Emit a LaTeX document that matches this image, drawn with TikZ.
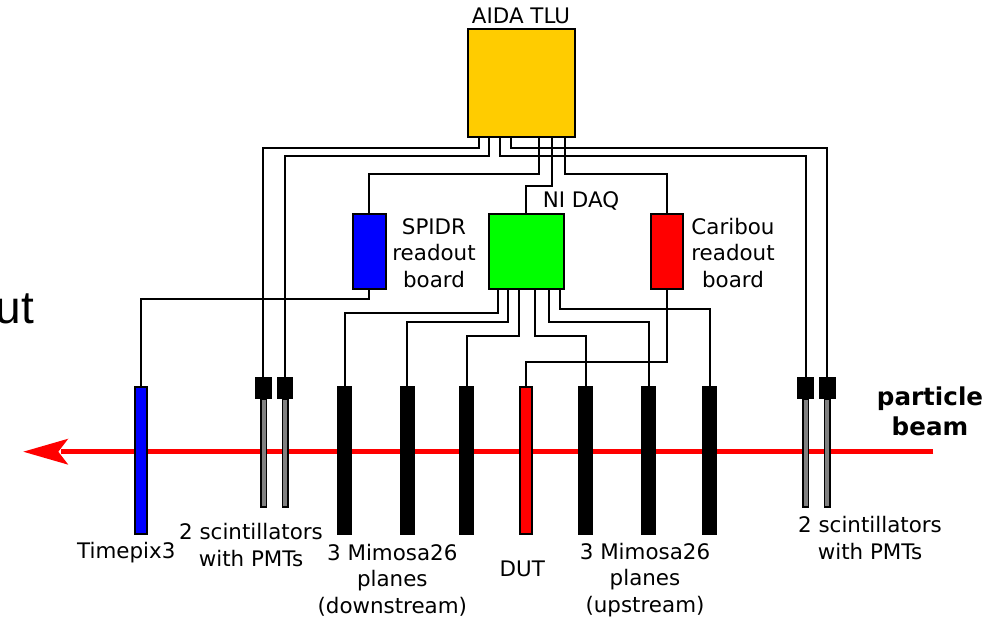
\documentclass[tikz,border=0pt]{standalone}
\usepackage{fontspec}
\setmainfont{DejaVu Sans}
\newfontfamily\utfont{Liberation Sans}
\definecolor{tlugold}{RGB}{255,204,0}
\definecolor{daqgreen}{RGB}{0,255,0}
\definecolor{spidrblue}{RGB}{0,0,255}
\definecolor{cariboured}{RGB}{255,0,0}
\definecolor{bargray}{RGB}{128,128,128}
\begin{document}
\begin{tikzpicture}[x=1pt,y=-1pt,
  boxstyle/.style={draw=black,line width=2pt,inner sep=0pt,outer sep=0pt},
  wire/.style={draw=black,line width=2pt},
  lbl/.style={font=\fontsize{21.4}{26.7}\selectfont,align=center,inner sep=0pt},
  blbl/.style={font=\fontsize{24.6}{30}\selectfont\bfseries,align=center,inner sep=0pt},
  plane/.style={boxstyle,fill=black,minimum width=13pt,minimum height=147pt},
  pmt/.style={boxstyle,fill=black,minimum width=14.5pt,minimum height=20.5pt},
  scbar/.style={draw=black,line width=1.5pt,fill=bargray,inner sep=0pt,outer sep=0pt,minimum width=5.5pt,minimum height=108pt},
  beam/.style={draw=cariboured,line width=4.6pt}]
\useasboundingbox (0,0) rectangle (991,618);

% cut-off title
\node[font=\utfont\fontsize{46}{50}\selectfont,anchor=base east,inner sep=0pt] (ut) at (34.5,323.3) {ut};

% beam
\coordinate (beamstart) at (933.3,451.7);
\coordinate (tip) at (23.3,451.7);
\draw[beam] (beamstart) -- ([xshift=38pt]tip);
\fill[cariboured] (tip) -- ([xshift=45pt,yshift=13pt]tip) -- ([xshift=35pt]tip) -- ([xshift=45pt,yshift=-13pt]tip) -- cycle;

% boxes
\node[boxstyle,fill=tlugold,minimum width=107pt,minimum height=107pt] (tlu) at (521,83) {};
\node[boxstyle,fill=spidrblue,minimum width=32.5pt,minimum height=75.5pt] (spidr) at (369.3,251.3) {};
\node[boxstyle,fill=daqgreen,minimum width=75pt,minimum height=75pt] (nidaq) at (526.3,251.3) {};
\node[boxstyle,fill=cariboured,minimum width=32pt,minimum height=75pt] (caribou) at (667.3,251.3) {};

% detectors
\node[boxstyle,fill=spidrblue,minimum width=12pt,minimum height=146.5pt] (tpx) at (140.8,460.3) {};
\node[scbar] (barA) at (263.5,453) {};
\node[scbar] (barB) at (285.3,453) {};
\node[scbar] (barC) at (805.7,453) {};
\node[scbar] (barD) at (827.3,453) {};
\node[pmt] (pmtA) at (263.4,388) {};
\node[pmt] (pmtB) at (285.2,388) {};
\node[pmt] (pmtC) at (805.7,388) {};
\node[pmt] (pmtD) at (827.3,388) {};
\node[plane] (md1) at (344.7,460) {};
\node[plane] (md2) at (407,460) {};
\node[plane] (md3) at (466.5,460) {};
\node[boxstyle,fill=cariboured,minimum width=12pt,minimum height=146.5pt] (dut) at (525.8,460.3) {};
\node[plane] (mu1) at (585.5,460) {};
\node[plane] (mu2) at (648.7,460) {};
\node[plane] (mu3) at (709.5,460) {};

% TLU outputs
\coordinate (t1) at ([xshift=11.2pt]tlu.south west);
\coordinate (t2) at ([xshift=21.9pt]tlu.south west);
\coordinate (t3) at ([xshift=32.9pt]tlu.south west);
\coordinate (t4) at ([xshift=43.6pt]tlu.south west);
\coordinate (t5) at ([xshift=71.1pt]tlu.south west);
\coordinate (t6) at ([xshift=84.5pt]tlu.south west);
\coordinate (t7) at ([xshift=97.8pt]tlu.south west);
\draw[wire] (t1) -- ++(0,11) -| (pmtA.north);
\draw[wire] (t2) -- ++(0,19) -| (pmtB.north);
\draw[wire] (t3) -- ++(0,19) -| (pmtC.north);
\draw[wire] (t4) -- ++(0,11) -| (pmtD.north);
\draw[wire] (t5) -- ++(0,37) -| (spidr.north);
\draw[wire] (t6) -- ++(0,49) -| (nidaq.north);
\draw[wire] (t7) -- ++(0,37) -| (caribou.north);

% readout boards to detectors
\draw[wire] (spidr.south) -- ++(0,10.3) -| (tpx.north);
\draw[wire] (caribou.south) -- ++(0,73.5) -| (dut.north);
\coordinate (n1) at ([xshift=8.9pt]nidaq.south west);
\coordinate (n2) at ([xshift=19.5pt]nidaq.south west);
\coordinate (n3) at ([xshift=30.2pt]nidaq.south west);
\coordinate (n4) at ([xshift=46.5pt]nidaq.south west);
\coordinate (n5) at ([xshift=60.2pt]nidaq.south west);
\coordinate (n6) at ([xshift=70.9pt]nidaq.south west);
\draw[wire] (n1) -- ++(0,24.3) -| (md1.north);
\draw[wire] (n2) -- ++(0,33) -| (md2.north);
\draw[wire] (n3) -- ++(0,46.7) -| (md3.north);
\draw[wire] (n4) -- ++(0,46.7) -| (mu1.north);
\draw[wire] (n5) -- ++(0,33) -| (mu2.north);
\draw[wire] (n6) -- ++(0,19.7) -| (mu3.north);

% labels
\node[lbl] (ltlu) at (521,16) {AIDA TLU};
\node[lbl] (ldaq) at (581,201) {NI DAQ};
\node[lbl] (lspidr) at (434,253) {SPIDR\\readout\\board};
\node[lbl] (lcar) at (733,253) {Caribou\\readout\\board};
\node[lbl] (ltpx) at (126.3,553) {Timepix3};
\node[lbl] (lscL) at (251,545) {2 scintillators\\with PMTs};
\node[lbl] (lmd) at (392.3,580) {3 Mimosa26\\planes\\(downstream)};
\node[lbl] (ldut) at (522.3,569.3) {DUT};
\node[lbl] (lmu) at (645,580) {3 Mimosa26\\planes\\(upstream)};
\node[lbl] (lscR) at (870,538) {2 scintillators\\with PMTs};
\node[blbl] (lbeam) at (930,411.7) {particle\\beam};
\end{tikzpicture}
\end{document}
